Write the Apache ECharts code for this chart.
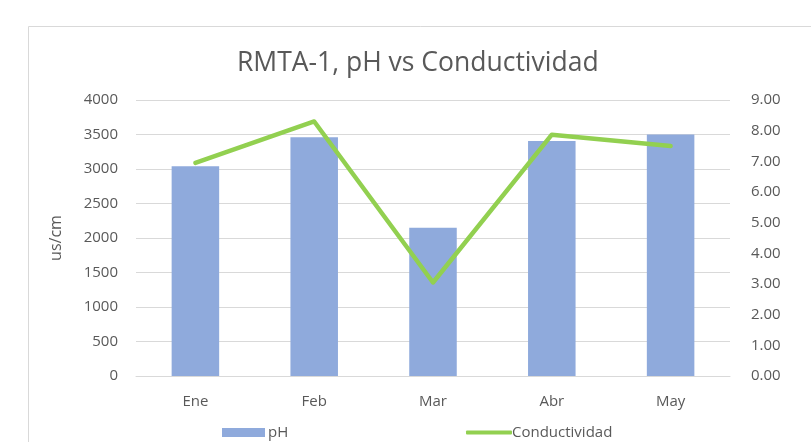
<!DOCTYPE html>
<html>
<head>
<meta charset="utf-8">
<script src="https://cdn.jsdelivr.net/npm/echarts@6/dist/echarts.min.js"></script>
<style>html,body{margin:0;padding:0;background:#fff;}#c{width:811px;height:442px;}</style>
</head>
<body>
<div id="c"></div>
<script>
const categories = ['Ene', 'Feb', 'Mar', 'Abr', 'May'];
const phValues = [3040, 3460, 2150, 3405, 3500];
const condValues = [6.95, 8.3, 3.05, 7.87, 7.5];
const leftTicks = { min: 0, max: 4000, interval: 500 };
const rightTicks = { min: 0, max: 9, interval: 1 };

const FONT = '"Open Sans", "Liberation Sans", sans-serif';
const TXT = '#595959';
const chart = echarts.init(document.getElementById('c'), null, { renderer: 'canvas' });
chart.setOption({
  animation: false,
  backgroundColor: '#fff',
  textStyle: { fontFamily: FONT, color: TXT },
  graphic: [{
    type: 'rect', left: 26, top: 24, shape: { width: 784, height: 440 },
    style: { fill: 'none', stroke: '#d9d9d9', lineWidth: 1 }, silent: true, z: -1
  }],
  title: {
    text: 'RMTA-1, pH vs Conductividad', left: 232, top: 45,
    textStyle: { fontFamily: FONT, fontSize: 26.5, fontWeight: 'normal', color: TXT }
  },
  legend: [{
    data: ['pH'], left: 217, top: 420, itemWidth: 43, itemHeight: 9, itemGap: 6,
    icon: 'rect', textStyle: { fontFamily: FONT, fontSize: 15, color: TXT, padding: [0, 0, 0, -2] }
  }, {
    data: ['Conductividad'], left: 461, top: 420, itemWidth: 46, itemHeight: 4,
    icon: 'roundRect', textStyle: { fontFamily: FONT, fontSize: 15, color: TXT, padding: [0, 0, 0, -5] }
  }],
  grid: { left: 136, right: 81, top: 100, bottom: 66, containLabel: false },
  xAxis: {
    type: 'category', data: categories,
    axisLine: { show: true, lineStyle: { color: '#d9d9d9' } },
    axisTick: { show: false },
    axisLabel: { fontFamily: FONT, fontSize: 15, color: TXT, margin: 18 }
  },
  yAxis: [{
    type: 'value', min: leftTicks.min, max: leftTicks.max, interval: leftTicks.interval,
    name: 'us/cm', nameLocation: 'middle', nameGap: 72, nameRotate: 90,
    nameTextStyle: { fontFamily: FONT, fontSize: 16, color: TXT },
    axisLine: { show: false }, axisTick: { show: false },
    axisLabel: { fontFamily: FONT, fontSize: 15, color: TXT, margin: 18, formatter: v => String(v) },
    splitLine: { lineStyle: { color: '#d9d9d9', width: 1 } }
  }, {
    type: 'value', min: rightTicks.min, max: rightTicks.max, interval: rightTicks.interval,
    position: 'right',
    axisLine: { show: false }, axisTick: { show: false },
    axisLabel: { fontFamily: FONT, fontSize: 15, color: TXT, margin: 21, formatter: v => v.toFixed(2) },
    splitLine: { show: false }
  }],
  series: [{
    name: 'pH', type: 'bar', data: phValues, yAxisIndex: 0,
    barCategoryGap: '60%',
    itemStyle: { color: '#8faadc' }
  }, {
    name: 'Conductividad', type: 'line', data: condValues, yAxisIndex: 1,
    symbol: 'none', showSymbol: false,
    lineStyle: { color: '#92d050', width: 4.5, cap: 'round', join: 'round' },
    itemStyle: { color: '#92d050' }
  }]
});
</script>
</body>
</html>
